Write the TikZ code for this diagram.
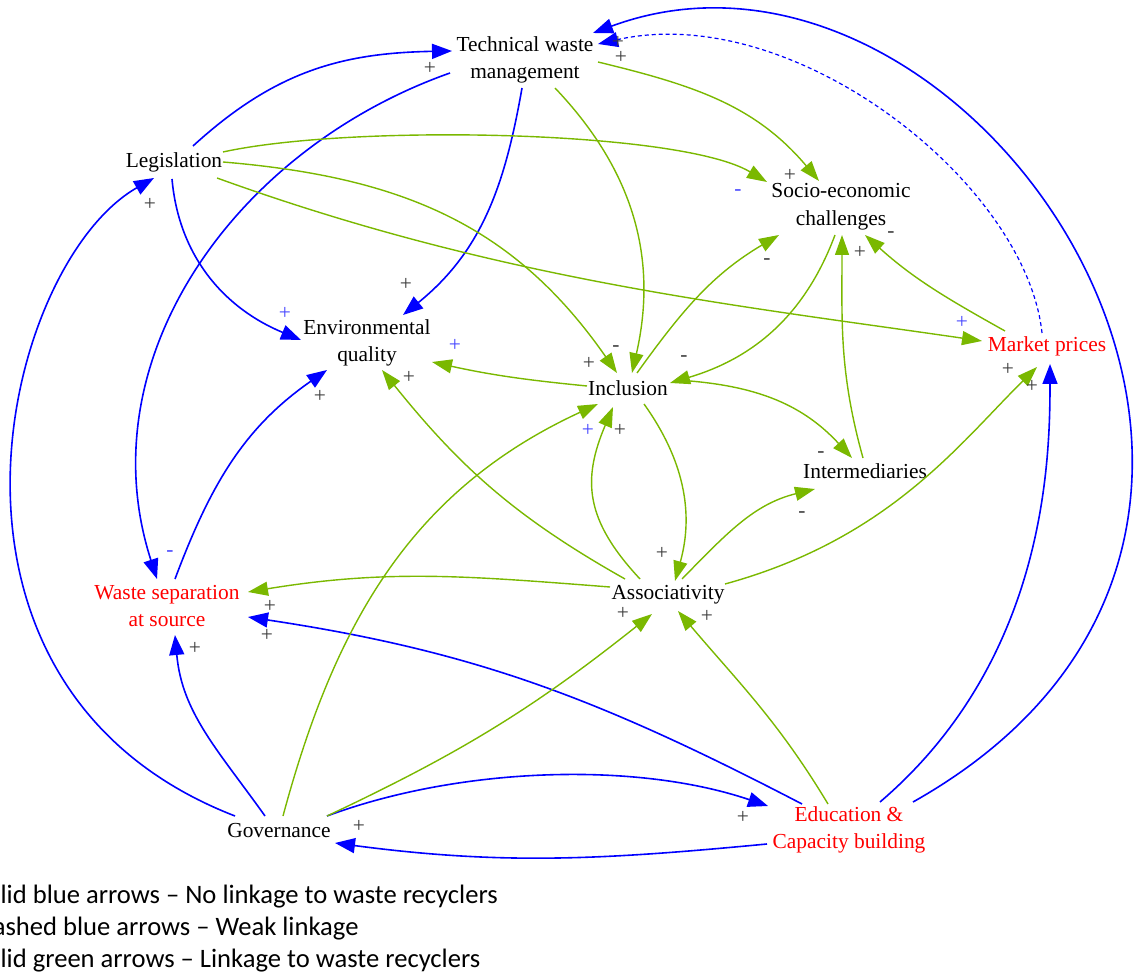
\documentclass[tikz,border=0pt]{standalone}
\usepackage{fontspec}
\setmainfont{Liberation Serif}
\newfontfamily\legendfont{Carlito}
\usetikzlibrary{arrows.meta,calc}
\definecolor{lblue}{RGB}{0,0,255}
\definecolor{lgreen}{RGB}{122,184,0}
\definecolor{lred}{RGB}{255,0,0}
\definecolor{sgray}{RGB}{60,60,60}
\definecolor{sblue}{RGB}{70,70,255}
\begin{document}
\begin{tikzpicture}[x=0.5pt,y=0.5pt,
  font=\fontsize{10.7}{13.8}\selectfont,
  lbl/.style={align=center, inner sep=0pt, text=black},
  redlbl/.style={lbl, text=lred},
  bl/.style={draw=lblue, line width=0.8pt, -{Triangle[length=10pt,width=7.5pt]}},
  dsh/.style={bl, line width=0.6pt, dash pattern=on 2pt off 1.5pt},
  gr/.style={draw=lgreen, line width=0.7pt, -{Triangle[length=10pt,width=7pt]}},
  sg/.style={text=sgray, inner sep=0pt},
  sb/.style={sg, text=sblue},
  legend/.style={font={\legendfont\fontsize{13.3}{16}\selectfont}, inner sep=0pt, anchor=base west, text=black}]
\useasboundingbox (0,0) rectangle (1139,-977);
\clip (0,0) rectangle (1139,-977);

% ---------- nodes ----------
\node[lbl] (tw) at (525,-60) {Technical waste\\management};
\node[lbl] (leg) at (174,-162) {Legislation};
\node[lbl] (soc) at (841,-207) {Socio-economic\\challenges};
\node[lbl] (eq) at (367,-343) {Environmental\\quality};
\node[redlbl] (mp) at (1047,-346) {Market prices};
\node[lbl] (inc) at (628,-388) {Inclusion};
\node[lbl] (int) at (865,-471) {Intermediaries};
\node[redlbl] (ws) at (167,-606) {Waste separation\\at source};
\node[lbl] (ass) at (668,-595) {Associativity};
\node[lbl] (gov) at (279,-831) {Governance};
\node[redlbl] (edu) at (849,-830) {Education \&\\Capacity building};

% ---------- blue connectors ----------
\draw[bl] ($(leg)+(19,16)$) .. controls (275,-71) and (342,-53) .. ($(tw)+(-73,9)$);
\draw[bl] ($(tw)+(-75,-13)$) .. controls (235,-149) and (86,-359) .. ($(ws)+(-10,27)$);
\draw[bl] ($(tw)+(-3,-28)$) .. controls (505,-185) and (482,-251) .. ($(eq)+(36,28)$);
\draw[bl] ($(leg)+(-2,-17)$) .. controls (179,-258) and (226,-309) .. ($(eq)+(-66,3)$);
\draw[bl] ($(gov)+(-44,15)$) .. controls (-100,-686) and (3,-264) .. ($(leg)+(-20,-16)$);
\draw[bl] ($(gov)+(-14,15)$) .. controls (218,-750) and (182,-713) .. ($(ws)+(8,-29)$);
\draw[bl] ($(gov)+(48,15)$) .. controls (459,-767) and (635,-761) .. ($(edu)+(-81,24)$);
\draw[bl] ($(edu)+(-82,-14)$) .. controls (599,-860) and (502,-865) .. ($(gov)+(56,-12)$);
\draw[bl] ($(edu)+(-47,26)$) .. controls (598,-698) and (474,-651) .. ($(ws)+(81,-11)$);
\draw[bl] ($(edu)+(31,28)$) .. controls (1045,-661) and (1050,-463) .. ($(mp)+(3,-18)$);
\draw[bl] ($(edu)+(64,28)$) .. controls (1400,-528) and (975,108) .. ($(tw)+(68,27)$);
\draw[bl] ($(ws)+(8,27)$) .. controls (211,-483) and (245,-427) .. ($(eq)+(-40,-27)$);
\draw[dsh] ($(mp)+(-5,13)$) .. controls (1026,-183) and (794,0) .. ($(tw)+(73,16)$);

% ---------- green connectors ----------
\draw[gr] ($(tw)+(73,-2)$) .. controls (693,-85) and (755,-105) .. ($(soc)+(-22,26)$);
\draw[gr] ($(tw)+(30,-28)$) .. controls (634,-171) and (658,-259) .. ($(inc)+(4,15)$);
\draw[gr] ($(leg)+(49,10)$) .. controls (350,-124) and (680,-130) .. ($(soc)+(-74,25)$);
\draw[gr] ($(leg)+(49,0)$) .. controls (402,-177) and (514,-225) .. ($(inc)+(-11,15)$);
\draw[gr] ($(leg)+(43,-16)$) .. controls (499,-280) and (734,-305) .. ($(mp)+(-65,5)$);
\draw[gr] ($(inc)+(9,15)$) .. controls (683,-309) and (713,-274) .. ($(soc)+(-62,-28)$);
\draw[gr] ($(soc)+(-6,-28)$) .. controls (805,-315) and (754,-358) .. ($(inc)+(42,5)$);
\draw[gr] ($(int)+(-2,13)$) .. controls (839,-372) and (842,-321) .. ($(soc)+(1,-28)$);
\draw[gr] ($(mp)+(-42,15)$) .. controls (946,-298) and (914,-279) .. ($(soc)+(24,-28)$);
\draw[gr] ($(inc)+(-41,2)$) .. controls (526,-380) and (491,-375) .. ($(eq)+(65,-19)$);
\draw[gr] ($(ass)+(-43,16)$) .. controls (515,-517) and (460,-467) .. ($(eq)+(15,-27)$);
\draw[gr] ($(inc)+(62,7)$) .. controls (760,-387) and (804,-406) .. ($(int)+(-13,13)$);
\draw[gr] ($(ass)+(14,16)$) .. controls (727,-533) and (754,-504) .. ($(int)+(-50,-18)$);
\draw[gr] ($(ass)+(-28,16)$) .. controls (585,-520) and (582,-480) .. ($(inc)+(-15,-19)$);
\draw[gr] ($(inc)+(16,-16)$) .. controls (684,-460) and (694,-513) .. ($(ass)+(7,14)$);
\draw[gr] ($(gov)+(4,15)$) .. controls (336,-619) and (414,-489) .. ($(inc)+(-30,-16)$);
\draw[gr] ($(ass)+(-58,8)$) .. controls (468,-576) and (388,-569) .. ($(ws)+(81,14)$);
\draw[gr] ($(ass)+(57,11)$) .. controls (889,-539) and (959,-444) .. ($(mp)+(-10,-21)$);
\draw[gr] ($(gov)+(48,15)$) .. controls (463,-752) and (535,-707) .. ($(ass)+(-16,-19)$);
\draw[gr] ($(edu)+(-21,26)$) .. controls (778,-721) and (739,-683) .. ($(ass)+(10,-16)$);

% ---------- polarity signs ----------
\node[sg] (s1) at (430,-68) {+};
\node[sg] (s2) at (618,-42) {+};
\node[sg] (s3) at (621,-57) {+};
\node[sg] (s4) at (150,-204) {+};
\node[sg] (s5) at (406,-284) {+};
\node[sb] (s6) at (285,-313) {+};
\node[sg] (s7) at (320,-396) {+};
\node[sb] (s8) at (455,-345) {+};
\node[sg] (s9) at (409,-377) {+};
\node[sb] (s10) at (170,-554) {-};
\node[sg] (s11) at (195,-648) {+};
\node[sg] (s12) at (270,-606) {+};
\node[sg] (s13) at (267,-635) {+};
\node[sg] (s14) at (359,-826) {+};
\node[sg] (s15) at (743,-817) {+};
\node[sg] (s16) at (790,-175) {+};
\node[sb] (s17) at (738,-193) {-};
\node[sg] (s18) at (767,-262) {-};
\node[sg] (s19) at (860,-252) {+};
\node[sg] (s20) at (891,-235) {-};
\node[sb] (s21) at (962,-322) {+};
\node[sg] (s22) at (1008,-369) {+};
\node[sg] (s23) at (1032,-386) {+};
\node[sg] (s24) at (589,-363) {+};
\node[sg] (s25) at (616,-349) {-};
\node[sg] (s26) at (684,-359) {-};
\node[sb] (s27) at (588,-430) {+};
\node[sg] (s28) at (620,-430) {+};
\node[sg] (s29) at (821,-455) {-};
\node[sg] (s30) at (802,-515) {-};
\node[sg] (s31) at (662,-553) {+};
\node[sg] (s32) at (623,-613) {+};
\node[sg] (s33) at (707,-616) {+};

% ---------- legend ----------
\node[legend] (lg1) at (-26,-903) {Solid blue arrows – No linkage to waste recyclers};
\node[legend] (lg2) at (-24,-935) {Dashed blue arrows – Weak linkage};
\node[legend] (lg3) at (-26,-967) {Solid green arrows – Linkage to waste recyclers};
\end{tikzpicture}
\end{document}
